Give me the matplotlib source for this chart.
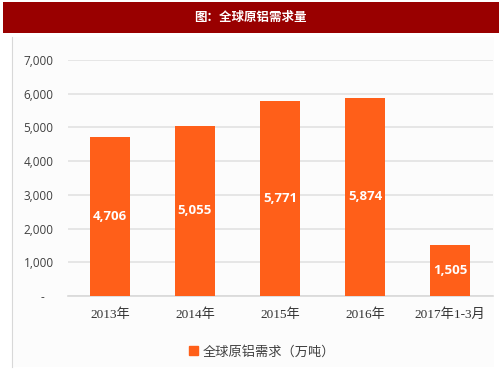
import matplotlib.pyplot as plt
from matplotlib.patches import Rectangle

categories = ['2013年', '2014年', '2015年', '2016年', '2017年1-3月']
demand = [4706, 5055, 5771, 5874, 1505]
value_labels = ['4,706', '5,055', '5,771', '5,874', '1,505']
yticks = [0, 1000, 2000, 3000, 4000, 5000, 6000, 7000]
ytick_labels = ['-   ', '1,000', '2,000', '3,000', '4,000', '5,000', '6,000', '7,000']

bar_color = '#FF5F19'
cjk_serif = ['Liberation Serif', 'Noto Sans CJK SC']

fig = plt.figure(figsize=(5.03, 3.78), dpi=100)
fig.patch.set_facecolor('white')

# title bar and panel background
fig.patches.append(Rectangle((3 / 503, 1 - 33 / 378), 496 / 503, 31 / 378,
                             transform=fig.transFigure, facecolor='#990000',
                             edgecolor='none', zorder=-10))
fig.patches.append(Rectangle((12 / 503, 1 - 367 / 378), 482 / 503, 330 / 378,
                             transform=fig.transFigure, facecolor='#FCFCFC',
                             edgecolor='none', zorder=-10))
fig.lines.append(plt.Line2D([12 / 503, 12 / 503], [1 - 367 / 378, 1 - 37 / 378],
                            transform=fig.transFigure, color='#D8D8D8', lw=0.8,
                            zorder=-5))
fig.text(250 / 503, 1 - 17 / 378, '图：全球原铝需求量', color='white',
         fontsize=9, fontweight='bold', ha='center', va='center',
         family=['Noto Sans CJK SC', 'DejaVu Sans'])

ax = fig.add_axes([67.5 / 503, 1 - 296 / 378, 425 / 503, 236 / 378])
ax.set_facecolor('none')
ax.set_zorder(1)

x = range(len(categories))
ax.bar(x, demand, width=0.47, color=bar_color, zorder=3)
for i, v in enumerate(demand):
    ax.text(i, v / 2, value_labels[i], color='white', fontsize=9.5,
            fontweight='bold', ha='center', va='center', family='Open Sans',
            zorder=4)

ax.set_xlim(-0.5, len(categories) - 0.5)
ax.set_ylim(0, 7000)
ax.set_yticks(yticks)
ax.set_yticklabels(ytick_labels, family='Open Sans', fontsize=8.5, color='#404040')
ax.set_xticks(list(x))
ax.set_xticklabels(categories, family=cjk_serif, fontsize=9.5, color='#333333')
ax.tick_params(length=0)
ax.tick_params(axis='y', pad=10)
ax.tick_params(axis='x', pad=9)
ax.grid(axis='y', color='#E2E2E2', lw=1.2, zorder=0)
for s in ['top', 'right', 'left']:
    ax.spines[s].set_visible(False)
ax.spines['bottom'].set_color('#D9D9D9')
ax.spines['bottom'].set_linewidth(1.2)

handle = Rectangle((0, 0), 1, 1, color=bar_color)
fig.legend([handle], ['全球原铝需求（万吨）'], loc='center',
           bbox_to_anchor=(262 / 503, 1 - 352 / 378), frameon=False,
           handlelength=0.7, handleheight=0.7, handletextpad=0.3,
           prop={'family': cjk_serif, 'size': 9.5}, labelcolor='#404040')

fig.savefig('out.png', dpi=100, facecolor='white')
